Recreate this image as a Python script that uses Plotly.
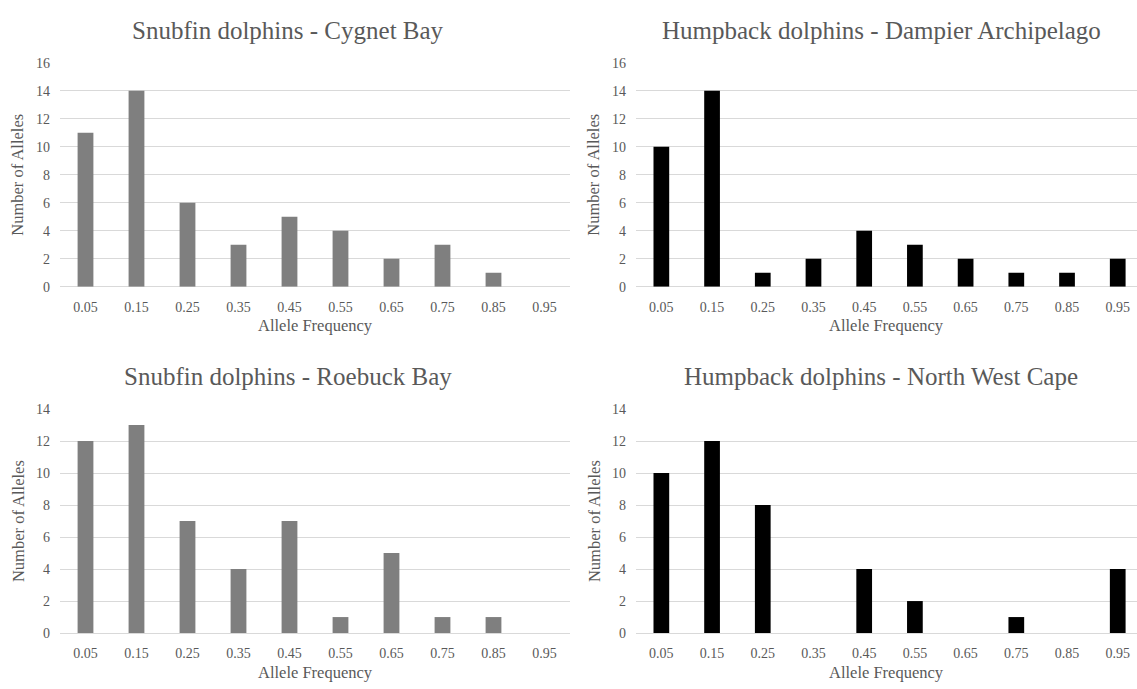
import plotly.graph_objects as go

# Allele frequency bins (class midpoints)
freq_bins = ["0.05", "0.15", "0.25", "0.35", "0.45", "0.55", "0.65", "0.75", "0.85", "0.95"]

# Number of alleles per frequency bin, by population
cygnet_bay = [11, 14, 6, 3, 5, 4, 2, 3, 1, 0]
dampier_archipelago = [10, 14, 1, 2, 4, 3, 2, 1, 1, 2]
roebuck_bay = [12, 13, 7, 4, 7, 1, 5, 1, 1, 0]
north_west_cape = [10, 12, 8, 0, 4, 2, 0, 1, 0, 4]

W, H = 1137, 689
FONT = "'Times New Roman', 'Liberation Serif', 'DejaVu Serif', serif"
TXT = "#595959"
GRID = "#d9d9d9"


def px_x(p):
    return p / W


def px_y(p):
    return (H - p) / H


panels = [
    # (values, colour, title, axis suffix, x-domain px, y-domain px, ymax, x range max, title centre x)
    (cygnet_bay, "#7f7f7f", "Snubfin dolphins - Cygnet Bay", "", (60, 570), (286, 57), 16, 9.5, 288),
    (dampier_archipelago, "#000000", "Humpback dolphins - Dampier Archipelago", "2", (636, 1137), (286, 57), 16, 9.38, 882),
    (roebuck_bay, "#7f7f7f", "Snubfin dolphins - Roebuck Bay", "3", (60, 570), (640, 411), 14, 9.5, 288),
    (north_west_cape, "#000000", "Humpback dolphins - North West Cape", "4", (636, 1137), (640, 411), 14, 9.38, 881),
]

fig = go.Figure()
annotations = []
layout = {}

for vals, colour, title, sfx, (x0, x1), (yb, yt), ymax, xmax, tcx in panels:
    xa = "x" + sfx
    ya = "y" + sfx
    fig.add_trace(go.Bar(
        x=freq_bins, y=vals, xaxis=xa, yaxis=ya,
        marker=dict(color=colour, line=dict(width=0)),
        width=0.31, showlegend=False,
    ))
    layout["xaxis" + sfx] = dict(
        domain=[px_x(x0), px_x(x1)], anchor=ya, type="category",
        range=[-0.5, xmax], showgrid=False, showline=False, zeroline=False,
        ticks="", ticklabelstandoff=10,
        tickfont=dict(family=FONT, size=14, color=TXT), fixedrange=True,
    )
    layout["yaxis" + sfx] = dict(
        domain=[px_y(yb), px_y(yt)], anchor=xa, range=[0, ymax], dtick=2,
        showgrid=True, gridcolor=GRID, gridwidth=1,
        zeroline=True, zerolinecolor=GRID, zerolinewidth=1, showline=False,
        ticks="", ticklabelstandoff=9,
        tickfont=dict(family=FONT, size=14, color=TXT), fixedrange=True,
    )
    # chart title
    annotations.append(dict(
        text=title, x=px_x(tcx), y=px_y(yt - 33), xref="paper", yref="paper",
        xanchor="center", yanchor="middle", showarrow=False,
        font=dict(family=FONT, size=25, color=TXT),
    ))
    # x axis title
    annotations.append(dict(
        text="Allele Frequency", x=px_x((x0 + min(x1, x0 + 510)) / 2), y=px_y(yb + 40),
        xref="paper", yref="paper", xanchor="center", yanchor="middle",
        showarrow=False, font=dict(family=FONT, size=16.5, color=TXT),
    ))
    # y axis title
    annotations.append(dict(
        text="Number of Alleles", x=px_x(x0 - 42), y=px_y((yb + yt) / 2),
        xref="paper", yref="paper", xanchor="center", yanchor="middle",
        textangle=-90, showarrow=False, font=dict(family=FONT, size=16.5, color=TXT),
    ))

fig.update_layout(
    width=W, height=H,
    margin=dict(l=0, r=0, t=0, b=0),
    paper_bgcolor="white", plot_bgcolor="white",
    annotations=annotations,
    font=dict(family=FONT, color=TXT),
    **layout,
)

fig.write_html("out.html", config={"displayModeBar": False})
